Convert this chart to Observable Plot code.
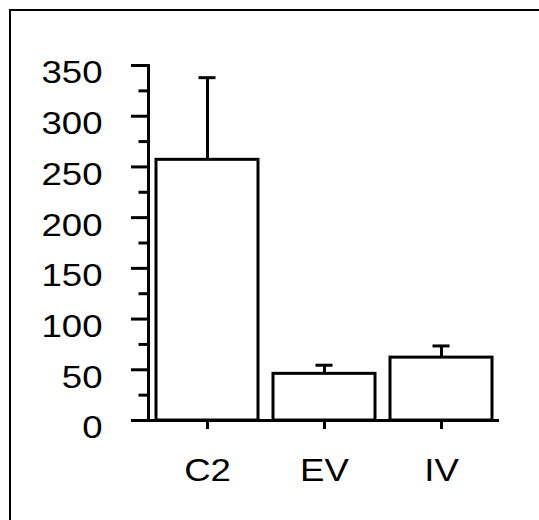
<!DOCTYPE html>
<html><head><meta charset="utf-8">
<script src="https://cdn.jsdelivr.net/npm/d3@7"></script>
<script src="https://cdn.jsdelivr.net/npm/@observablehq/plot@0.6"></script>
<style>
body{margin:0;background:#fff;}
#wrap{position:relative;width:539px;height:520px;overflow:hidden;background:#fff;}
#wrap svg{position:absolute;left:0;top:0;}
#border{position:absolute;left:9px;top:9px;width:600px;height:600px;border-top:2px solid #000;border-left:2px solid #000;box-sizing:border-box;pointer-events:none;}
</style></head><body>
<div id="wrap"></div>
<script>
// Data
const categories = ["C2", "EV", "IV"];
const means = [257, 46, 62];
const errors = [81, 8.5, 11.5];
const yMajorTicks = [0, 50, 100, 150, 200, 250, 300, 350];
const yMinorTicks = [25, 75, 125, 175, 225, 275, 325];

const data = categories.map((c, i) => ({cat: c, mean: means[i], top: means[i] + errors[i]}));

const chart = Plot.plot({
  width: 539,
  height: 520,
  marginTop: 65,
  marginBottom: 100,
  marginLeft: 148,
  marginRight: 40,
  style: {fontFamily: "'Liberation Sans', Arial, sans-serif", fontSize: "31px", color: "#000", background: "transparent"},
  x: {domain: categories, paddingInner: 0.13, paddingOuter: 0.0625, axis: null},
  y: {domain: [0, 350], axis: null},
  marks: [
    Plot.ruleX(data, {x: "cat", y1: "mean", y2: "top", stroke: "black", strokeWidth: 3}),
    Plot.tickY(data, {x: "cat", y: "top", stroke: "black", strokeWidth: 3, insetLeft: 42.5, insetRight: 42.5}),
    Plot.barY(data, {x: "cat", y: "mean", fill: "white", stroke: "black", strokeWidth: 3}),
    Plot.frame({anchor: "left", stroke: "black", strokeWidth: 3}),
    Plot.axisY({ticks: yMinorTicks, tickSize: 9.5, strokeWidth: 3, text: null, label: null}),
    Plot.axisY({ticks: yMajorTicks, tickSize: 17, strokeWidth: 3, text: null, label: null}),
    Plot.axisY({ticks: yMajorTicks, tickSize: 0, tickPadding: 46, dy: 8, fontSize: 31, label: null}),
    Plot.axisX({tickSize: 9, tickPadding: 29, strokeWidth: 3, fontSize: 31, label: null}),
    Plot.ruleY([0], {stroke: "black", strokeWidth: 3, insetLeft: -17})
  ]
});

chart.querySelectorAll('g[aria-label$="tick label"] text').forEach(t => {
  const tr = t.getAttribute("transform") || "";
  t.setAttribute("transform", tr + " scale(1.18,1)");
});

const wrap = document.getElementById("wrap");
wrap.appendChild(chart);
const border = document.createElement("div");
border.id = "border";
wrap.appendChild(border);
</script>
</body></html>
